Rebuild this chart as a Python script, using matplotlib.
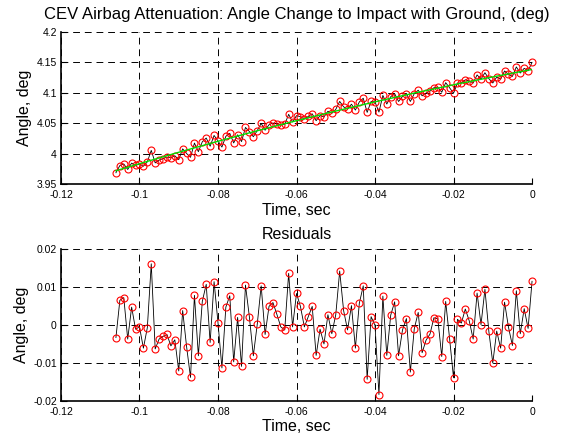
import numpy as np
import matplotlib
matplotlib.use('Agg')
import matplotlib.pyplot as plt
from matplotlib.ticker import FuncFormatter

# sample times, 1 ms steps from -0.106 s to 0
time_s = np.arange(-106, 1) / 1000.0

angle = [
    3.9691, 3.9809, 3.9835, 3.9745, 3.9849, 3.9810, 3.9835, 3.9798, 3.9871, 4.0058,
    3.9853, 3.9898, 3.9923, 3.9947, 3.9935, 3.9970, 3.9906, 4.0083, 4.0007, 3.9944,
    4.0178, 4.0037, 4.0198, 4.0261, 4.0126, 4.0303, 4.0213, 4.0112, 4.0289, 4.0337,
    4.0180, 4.0314, 4.0202, 4.0434, 4.0367, 4.0282, 4.0382, 4.0500, 4.0388, 4.0479,
    4.0506, 4.0491, 4.0475, 4.0483, 4.0649, 4.0524, 4.0628, 4.0610, 4.0572, 4.0615,
    4.0658, 4.0545, 4.0630, 4.0606, 4.0699, 4.0665, 4.0730, 4.0861, 4.0772, 4.0736,
    4.0815, 4.0719, 4.0852, 4.0913, 4.0681, 4.0861, 4.0853, 4.0686, 4.0959, 4.0818,
    4.0938, 4.0988, 4.0860, 4.0942, 4.0987, 4.0860, 4.0988, 4.1045, 4.0953, 4.0999,
    4.1029, 4.1086, 4.1096, 4.1011, 4.1169, 4.1085, 4.0995, 4.1162, 4.1165, 4.1216,
    4.1198, 4.1163, 4.1296, 4.1226, 4.1332, 4.1234, 4.1163, 4.1260, 4.1227, 4.1360,
    4.1307, 4.1271, 4.1427, 4.1326, 4.1404, 4.1364, 4.1500,
]

# fitted curve (green), read at a few times
fit_time = [-0.106, -0.10, -0.09, -0.08, -0.07, -0.06, -0.05, -0.04, -0.03, -0.02, -0.01, 0.0]
fit_angle = [3.9724, 3.9840, 4.0027, 4.0207, 4.0380, 4.0545, 4.0703, 4.0854, 4.0998, 4.1134, 4.1263, 4.1385]

# residuals, deg
residuals = [
    -0.0033, 0.0065, 0.0072, -0.0037, 0.0047, -0.0011, -0.0005, -0.0061, -0.0007, 0.0161,
    -0.0063, -0.0037, -0.0030, -0.0025, -0.0055, -0.0039, -0.0121, 0.0038, -0.0057, -0.0138,
    0.0078, -0.0081, 0.0062, 0.0107, -0.0046, 0.0114, 0.0006, -0.0113, 0.0047, 0.0077,
    -0.0097, 0.0020, -0.0109, 0.0105, 0.0021, -0.0081, 0.0002, 0.0103, -0.0025, 0.0049,
    0.0059, 0.0028, -0.0005, -0.0013, 0.0136, -0.0005, 0.0083, 0.0049, -0.0005, 0.0022,
    0.0049, -0.0080, -0.0011, -0.0050, 0.0027, -0.0023, 0.0027, 0.0142, 0.0038, -0.0013,
    0.0051, -0.0061, 0.0057, 0.0103, -0.0143, 0.0022, -0.0001, -0.0183, 0.0076, -0.0080,
    0.0026, 0.0061, -0.0081, -0.0013, 0.0017, -0.0124, -0.0010, 0.0033, -0.0073, -0.0040,
    -0.0024, 0.0019, 0.0016, -0.0083, 0.0062, -0.0036, -0.0139, 0.0015, 0.0005, 0.0042,
    0.0011, -0.0037, 0.0084, 0.0001, 0.0094, -0.0017, -0.0100, -0.0016, -0.0061, 0.0060,
    -0.0006, -0.0054, 0.0090, -0.0023, 0.0043, -0.0009, 0.0115,
]

x_ticks = [-0.12, -0.1, -0.08, -0.06, -0.04, -0.02, 0]
top_yticks = [3.95, 4.0, 4.05, 4.1, 4.15, 4.2]
bot_yticks = [-0.02, -0.01, 0, 0.01, 0.02]

plt.rcParams['font.family'] = ['Liberation Sans', 'DejaVu Sans']

fig = plt.figure(figsize=(5.63, 4.38), dpi=100)
ax_top = fig.add_axes([0.1083, 0.579, 0.8367, 0.348])
ax_bot = fig.add_axes([0.1083, 0.0845, 0.8367, 0.347])

gfmt = FuncFormatter(lambda v, p: f'{v:g}')


def style_axes(ax, yticks, ylim):
    ax.set_xlim(-0.12, 0)
    ax.set_ylim(*ylim)
    ax.set_xticks(x_ticks)
    ax.set_yticks(yticks)
    ax.xaxis.set_major_formatter(gfmt)
    ax.yaxis.set_major_formatter(gfmt)
    ax.tick_params(direction='in', length=4, width=0.8, labelsize=7.5)
    ax.tick_params(axis='x', pad=4)
    ax.tick_params(axis='y', pad=3)
    ax.spines['top'].set_visible(False)
    ax.spines['right'].set_visible(False)
    ax.spines['left'].set_linewidth(1.2)
    ax.spines['bottom'].set_linewidth(1.2)
    ax.grid(True, color='black', linestyle=(0, (7, 5)), linewidth=0.7)
    ax.set_axisbelow(True)
    ax.set_xlabel('Time, sec', fontsize=11.5, labelpad=2)
    ax.set_ylabel('Angle, deg', fontsize=11.5, labelpad=3)


def plot_series(ax, x, y):
    ax.plot(x, y, color='black', linewidth=0.6, zorder=2, clip_on=False)
    ax.plot(x, y, linestyle='none', marker='o', markersize=5, clip_on=False,
            markerfacecolor='none', markeredgecolor='red', markeredgewidth=0.8, zorder=3)


# top: measured angle with fit
plot_series(ax_top, time_s, angle)
ax_top.plot(fit_time, fit_angle, color='#00dd00', linewidth=1.0, zorder=4)
style_axes(ax_top, top_yticks, (3.95, 4.2))
ax_top.set_title('CEV Airbag Attenuation: Angle Change to Impact with Ground, (deg)',
                 fontsize=12, pad=9)

# bottom: residuals
plot_series(ax_bot, time_s, residuals)
style_axes(ax_bot, bot_yticks, (-0.02, 0.02))
ax_bot.set_title('Residuals', fontsize=11.5, pad=7)

fig.savefig('out.png', dpi=100)
